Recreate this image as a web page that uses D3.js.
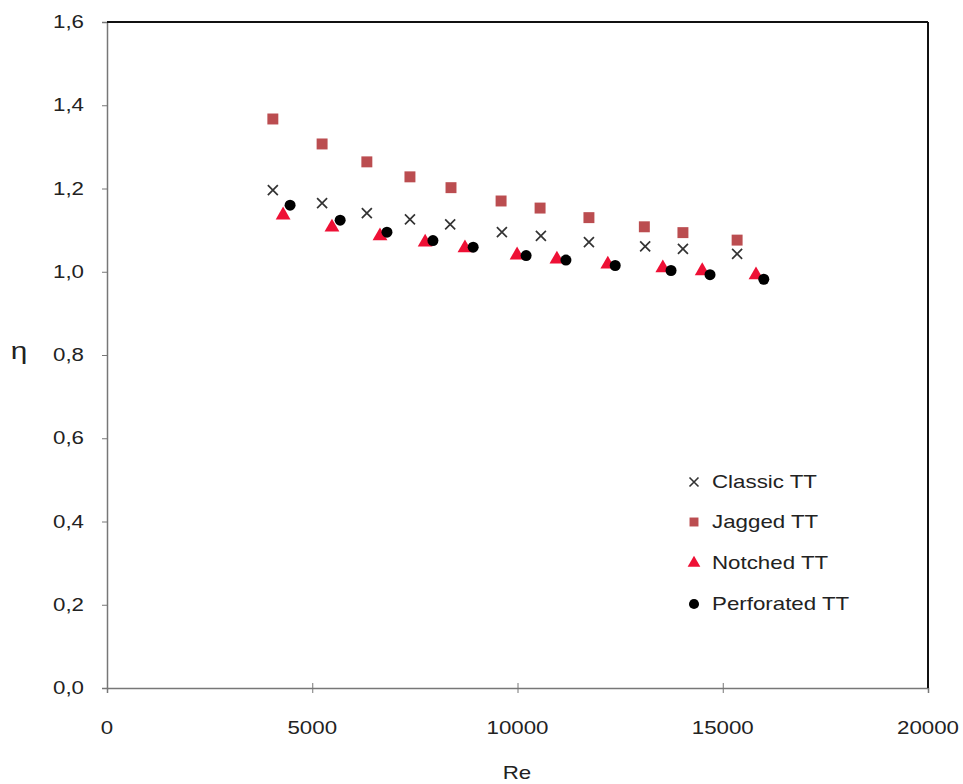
<!DOCTYPE html>
<html>
<head>
<meta charset="utf-8">
<script src="https://cdn.jsdelivr.net/npm/d3@7"></script>
<style>
  body { margin: 0; background: #fff; }
  text { font-family: "Liberation Sans", Arial, sans-serif; fill: #222; }
</style>
</head>
<body>
<svg width="963" height="784"></svg>
<script>
// data
var classicRe = [4040, 5240, 6330, 7380, 8360, 9620, 10570, 11740, 13110, 14030, 15350];
var classicEta = [1.196, 1.165, 1.141, 1.126, 1.114, 1.095, 1.086, 1.071, 1.061, 1.055, 1.043];

var jaggedRe = [4040, 5240, 6330, 7380, 8380, 9600, 10550, 11740, 13090, 14030, 15350];
var jaggedEta = [1.367, 1.307, 1.264, 1.228, 1.202, 1.170, 1.153, 1.130, 1.108, 1.094, 1.076];

var notchedRe = [4290, 5480, 6650, 7750, 8720, 9990, 10960, 12200, 13540, 14500, 15810];
var notchedEta = [1.136, 1.107, 1.086, 1.071, 1.057, 1.040, 1.030, 1.018, 1.009, 1.002, 0.992];

var perforatedRe = [4460, 5680, 6820, 7940, 8920, 10210, 11180, 12380, 13740, 14690, 16000];
var perforatedEta = [1.160, 1.124, 1.095, 1.075, 1.059, 1.039, 1.028, 1.015, 1.003, 0.993, 0.982];

var xTicks = [0, 5000, 10000, 15000, 20000];
var yTicks = [0, 0.2, 0.4, 0.6, 0.8, 1.0, 1.2, 1.4, 1.6];
var seriesNames = ["Classic TT", "Jagged TT", "Notched TT", "Perforated TT"];

var svg = d3.select("svg"),
    pLeft = 107, pRight = 928, pTop = 22, pBottom = 688,
    stretch = 1.24; // the original text looks wide

var x = d3.scaleLinear().domain([0, 20000]).range([pLeft, pRight]);
var y = d3.scaleLinear().domain([0, 1.6]).range([pBottom, pTop]);
var fmt = function(d) { return d3.format(".1f")(d).replace(".", ","); };

function label(g, tx, ty, str, anchor) {
    return g.append("text")
        .attr("transform", "translate(" + tx + "," + ty + ") scale(" + stretch + ",1)")
        .attr("text-anchor", anchor || "middle")
        .style("font-size", "18px")
        .text(str);
}

// axes
var xAxis = svg.append("g")
    .attr("transform", "translate(0," + pBottom + ")")
    .call(d3.axisBottom(x).tickValues(xTicks).tickSize(5).tickFormat(""));
xAxis.select(".domain").attr("stroke", "#777").attr("stroke-width", 1.5);
xAxis.selectAll(".tick line").attr("stroke", "#777").attr("y1", -5);

var yAxis = svg.append("g")
    .attr("transform", "translate(" + pLeft + ",0)")
    .call(d3.axisLeft(y).tickValues(yTicks).tickSize(5).tickFormat(""));
yAxis.select(".domain").attr("stroke", "#777").attr("stroke-width", 1.5);
yAxis.selectAll(".tick line").attr("stroke", "#777");

// plot border on top and right
svg.append("line").attr("x1", pLeft).attr("x2", pRight).attr("y1", pTop).attr("y2", pTop)
    .attr("stroke", "#111").attr("stroke-width", 2);
svg.append("line").attr("x1", pRight).attr("x2", pRight).attr("y1", pTop).attr("y2", pBottom)
    .attr("stroke", "#111").attr("stroke-width", 2);

var labels = svg.append("g");
xTicks.forEach(function(t) { label(labels, x(t), 734, t); });
yTicks.forEach(function(t) { label(labels, 84, y(t) + 6, fmt(t), "end"); });
label(labels, 517, 779, "Re");
label(labels, 19, 359, "η").style("font-size", "24px");

// markers
function xPath(s) {
    return "M" + (-s) + "," + (-s) + "L" + s + "," + s + "M" + (-s) + "," + s + "L" + s + "," + (-s);
}
var square = d3.symbol().type(d3.symbolSquare).size(120);
var tri = d3.symbol().type(d3.symbolTriangle).size(95);
var circ = d3.symbol().type(d3.symbolCircle).size(95);

var plot = svg.append("g");

plot.selectAll(".classic")
    .data(d3.zip(classicRe, classicEta))
    .enter().append("path")
    .attr("class", "classic")
    .attr("transform", function(d) { return "translate(" + x(d[0]) + "," + y(d[1]) + ")"; })
    .attr("d", xPath(5))
    .attr("stroke", "#333").attr("stroke-width", 1.7).attr("fill", "none");

plot.selectAll(".jagged")
    .data(d3.zip(jaggedRe, jaggedEta))
    .enter().append("path")
    .attr("class", "jagged")
    .attr("transform", function(d) { return "translate(" + x(d[0]) + "," + y(d[1]) + ")"; })
    .attr("d", square)
    .attr("fill", "#bb4d50");

plot.selectAll(".notched")
    .data(d3.zip(notchedRe, notchedEta))
    .enter().append("path")
    .attr("class", "notched")
    .attr("transform", function(d) { return "translate(" + x(d[0]) + "," + y(d[1]) + ")"; })
    .attr("d", tri)
    .attr("fill", "#ee1035");

plot.selectAll(".perforated")
    .data(d3.zip(perforatedRe, perforatedEta))
    .enter().append("path")
    .attr("class", "perforated")
    .attr("transform", function(d) { return "translate(" + x(d[0]) + "," + y(d[1]) + ")"; })
    .attr("d", circ)
    .attr("fill", "#000");

// legend
var legend = svg.append("g");
var legY = [482, 522, 563, 604];
legend.append("path").attr("transform", "translate(694," + legY[0] + ")")
    .attr("d", xPath(4.5)).attr("stroke", "#333").attr("stroke-width", 1.6);
legend.append("path").attr("transform", "translate(694," + legY[1] + ")")
    .attr("d", d3.symbol().type(d3.symbolSquare).size(80)).attr("fill", "#bb4d50");
legend.append("path").attr("transform", "translate(694," + legY[2] + ")")
    .attr("d", d3.symbol().type(d3.symbolTriangle).size(70)).attr("fill", "#ee1035");
legend.append("path").attr("transform", "translate(694," + legY[3] + ")")
    .attr("d", d3.symbol().type(d3.symbolCircle).size(80)).attr("fill", "#000");
seriesNames.forEach(function(n, i) { label(legend, 712, legY[i] + 6, n, "start"); });
</script>
</body>
</html>
